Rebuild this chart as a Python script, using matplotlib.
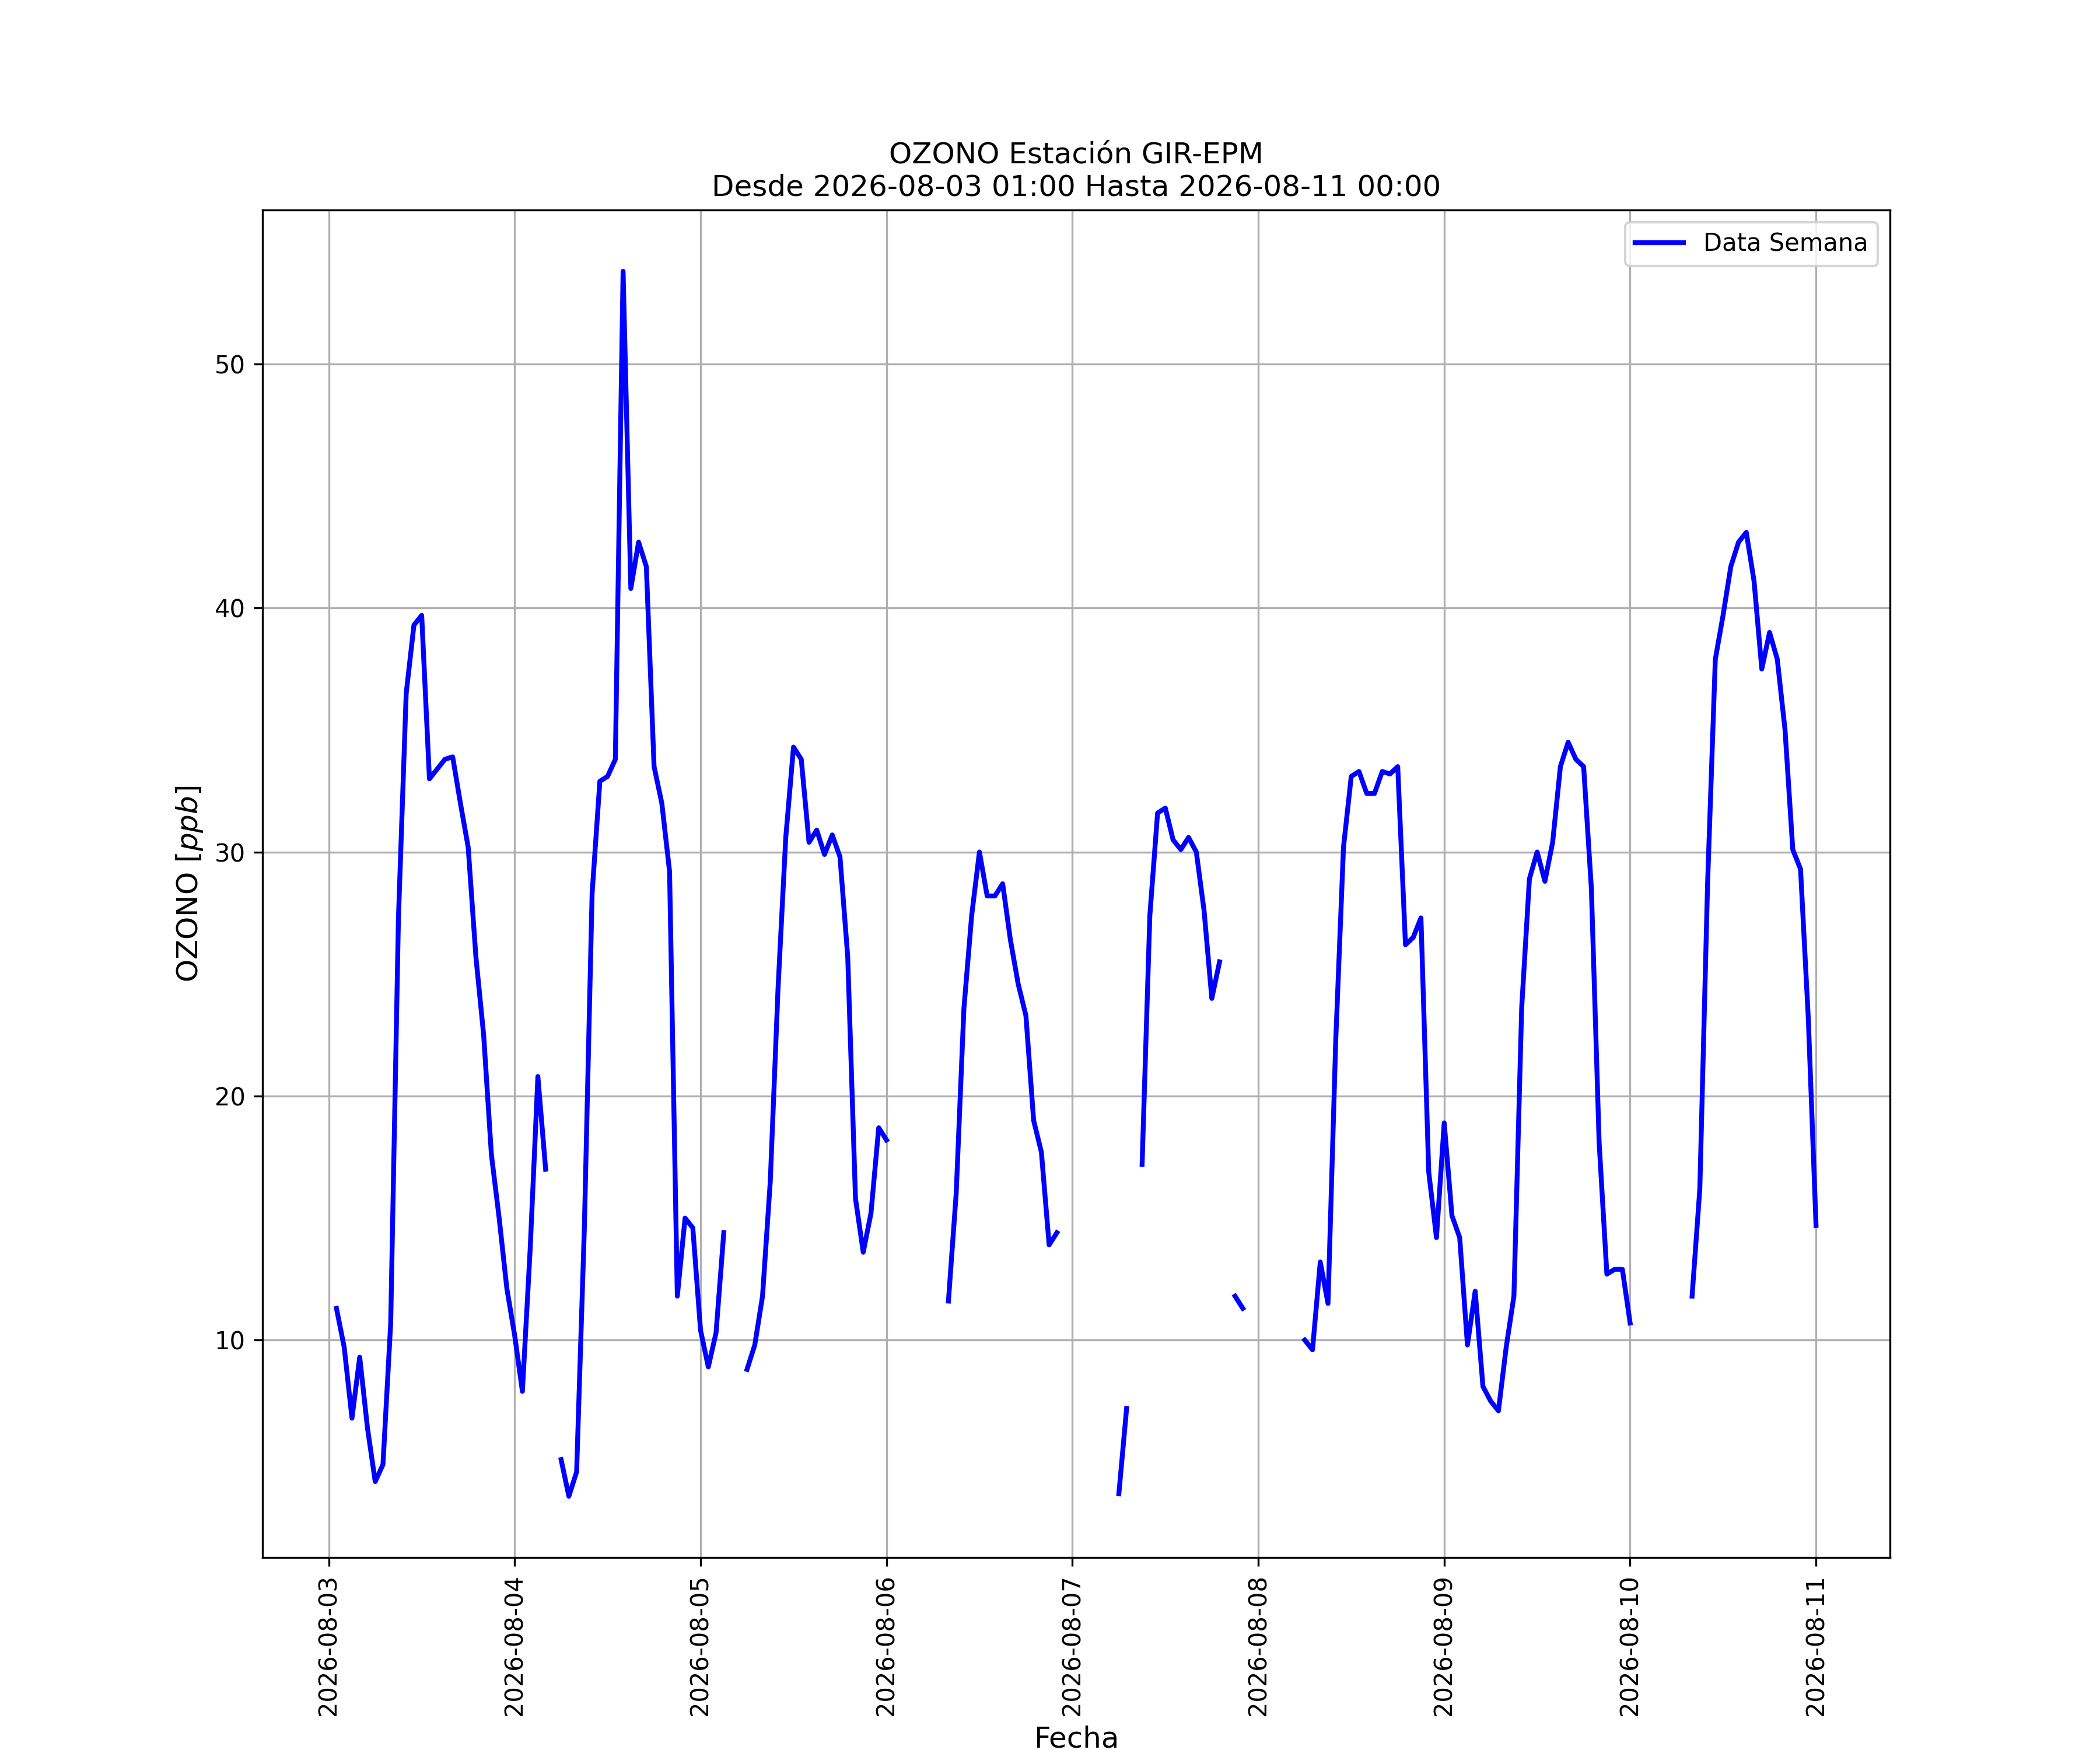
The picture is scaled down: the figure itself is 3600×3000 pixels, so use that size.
import numpy as np
import pandas as pd
import matplotlib
matplotlib.use("Agg")
import matplotlib.pyplot as plt
import matplotlib.dates as mdates

nan = np.nan

# Hourly ozone values (ppb), 2026-08-03 01:00 .. 2026-08-11 00:00
day_0803 = [11.3, 9.7, 6.8, 9.3, 6.4, 4.2, 4.9, 10.7, 27.3, 36.5, 39.3, 39.7,
            33.0, 33.4, 33.8, 33.9, 32.0, 30.2, 25.7, 22.5, 17.6, 15.0, 12.1]  # 01..23
day_0804 = [10.2, 7.9, 13.7, 20.8, 17.0, nan, 5.1, 3.6, 4.6, 14.6, 28.3, 32.9,
            33.1, 33.8, 53.8, 40.8, 42.7, 41.7, 33.5, 32.0, 29.2, 11.8, 15.0, 14.6]
day_0805 = [10.4, 8.9, 10.3, 14.4, nan, nan, 8.8, 9.8, 11.8, 16.5, 24.4, 30.6,
            34.3, 33.8, 30.4, 30.9, 29.9, 30.7, 29.8, 25.7, 15.8, 13.6, 15.2, 18.7]
day_0806 = [18.2, nan, nan, nan, nan, nan, nan, nan, 11.6, 16.0, 23.6, 27.4,
            30.0, 28.2, 28.2, 28.7, 26.4, 24.6, 23.3, 19.0, 17.7, 13.9, 14.4, nan]
day_0807 = [nan, nan, nan, nan, nan, nan, 3.7, 7.2, nan, 17.2, 27.4, 31.6,
            31.8, 30.5, 30.1, 30.6, 30.0, 27.6, 24.0, 25.5, nan, 11.8, 11.3, nan]
day_0808 = [nan, nan, nan, nan, nan, nan, 10.0, 9.6, 13.2, 11.5, 22.3, 30.2,
            33.1, 33.3, 32.4, 32.4, 33.3, 33.2, 33.5, 26.2, 26.5, 27.3, 16.9, 14.2]
day_0809 = [18.9, 15.1, 14.2, 9.8, 12.0, 8.1, 7.5, 7.1, 9.7, 11.8, 23.6, 28.9,
            30.0, 28.8, 30.4, 33.5, 34.5, 33.8, 33.5, 28.5, 18.1, 12.7, 12.9, 12.9]
day_0810 = [10.7, nan, nan, nan, nan, nan, nan, nan, 11.8, 16.2, 28.7, 37.9,
            39.7, 41.7, 42.7, 43.1, 41.1, 37.5, 39.0, 37.9, 35.0, 30.1, 29.3, 23.2]
day_0811 = [14.7]  # 00:00

ozono = day_0803 + day_0804 + day_0805 + day_0806 + day_0807 + day_0808 + day_0809 + day_0810 + day_0811
fechas = pd.date_range("2026-08-03 01:00", periods=len(ozono), freq="h")

fig, ax = plt.subplots(figsize=(12, 10), dpi=300)
ax.plot(fechas, ozono, color="blue", linewidth=2, label="Data Semana")
ax.set_title("OZONO Estación GIR-EPM\nDesde 2026-08-03 01:00 Hasta 2026-08-11 00:00", fontsize=12)
ax.set_xlabel("Fecha", fontsize=12)
ax.set_ylabel("OZONO $[ppb]$", fontsize=12)
ax.xaxis.set_major_locator(mdates.DayLocator())
ax.xaxis.set_major_formatter(mdates.DateFormatter("%Y-%m-%d"))
plt.setp(ax.get_xticklabels(), rotation=90)
ax.grid(True)
ax.legend(loc="upper right")
fig.savefig("out.png", dpi=300)
